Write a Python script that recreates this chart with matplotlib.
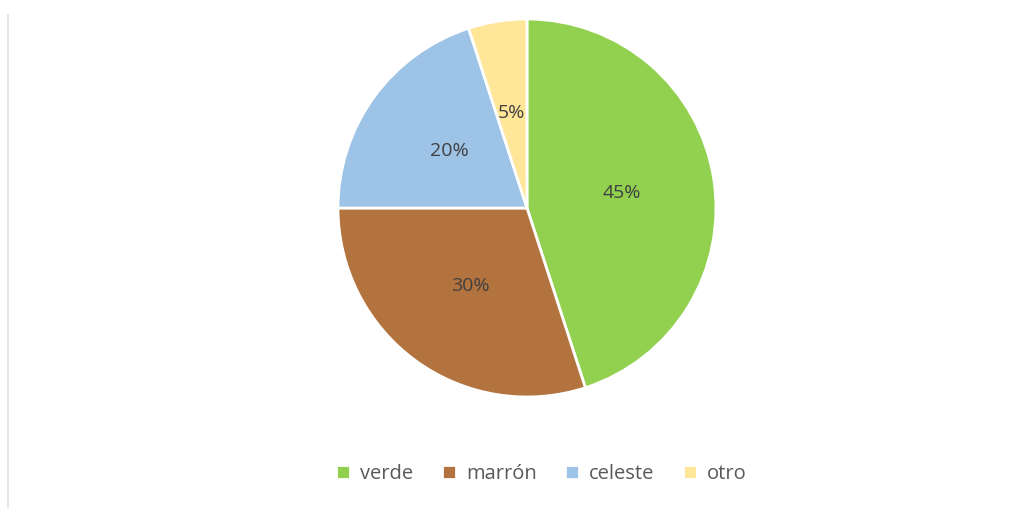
import matplotlib.pyplot as plt
from matplotlib.lines import Line2D

# datos del gráfico
categorias = ['verde', 'marrón', 'celeste', 'otro']
valores = [45, 30, 20, 5]
colores = ['#92D050', '#B3733F', '#9DC3E6', '#FFE699']

plt.rcParams['font.family'] = ['Open Sans', 'DejaVu Sans']

fig = plt.figure(figsize=(10.33, 5.08), dpi=100)
ax = fig.add_axes([0.3272, 0.2185, 0.3659, 0.7441])

wedges, textos, autotextos = ax.pie(
    valores, colors=colores, startangle=90, counterclock=False,
    autopct='%1.0f%%', pctdistance=0.51, radius=1,
    wedgeprops={'edgecolor': 'white', 'linewidth': 2},
    textprops={'fontsize': 14, 'color': '#404040'})
ax.set_xlim(-1, 1)
ax.set_ylim(-1, 1)
ax.set_aspect('equal')

# leyenda inferior
fig.legend(wedges, categorias, loc='center', bbox_to_anchor=(0.524, 0.067),
           ncol=4, frameon=False, fontsize=14.5, handlelength=0.7, handleheight=0.7,
           columnspacing=1.4, handletextpad=0.5, labelcolor='#595959')

# borde izquierdo tenue
fig.add_artist(Line2D([0.008, 0.008], [0, 0.97], color='#E6E6E6', linewidth=1.5,
                      transform=fig.transFigure))

fig.savefig('out.png', dpi=100)
